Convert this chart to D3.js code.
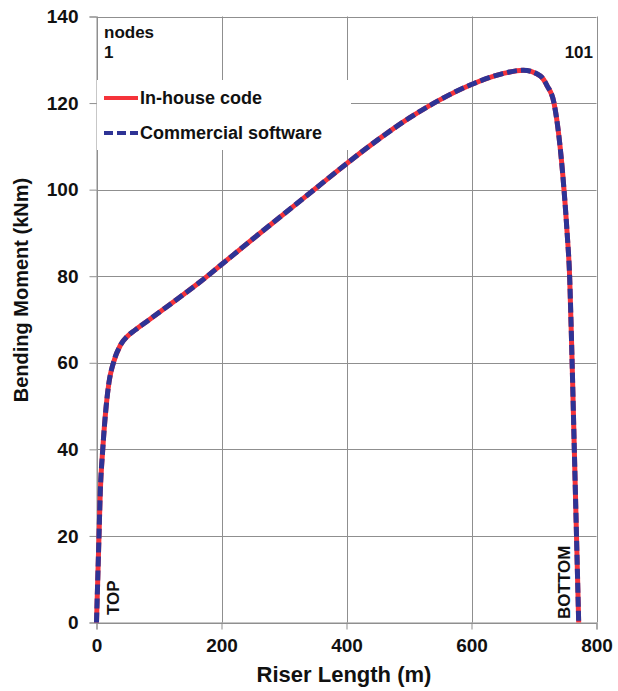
<!DOCTYPE html>
<html>
<head>
<meta charset="utf-8">
<script src="https://cdn.jsdelivr.net/npm/d3@7"></script>
<style>
  html, body { margin: 0; padding: 0; background: #fff; }
  svg { display: block; font-family: "Liberation Sans", Arial, sans-serif; }
</style>
</head>
<body>
<svg id="chart" width="618" height="691"></svg>
<script>
// Riser length along the line (m) and bending moment (kNm)
const riserLength = [0, 2, 4, 6, 10, 15.5, 20, 27, 38, 50, 62, 80, 100, 130, 166, 200, 250, 300, 350, 400,
                     450, 500, 550, 600, 650, 683, 710, 721, 732, 748, 753, 757, 761, 764.5, 768, 771.5];
const inHouseMoment = [0, 10, 20, 30, 40, 50, 55.5, 60, 64, 66.2, 67.6, 69.5, 71.6, 74.8, 78.7, 82.7, 88.6, 94.4, 100.2, 106,
                       111.5, 116.5, 120.8, 124.3, 126.8, 127.6, 126.3, 124, 120, 100, 90, 80, 60, 40, 20, 0];
const commercialMoment = [0, 10, 20, 30, 40, 50, 55.5, 60, 64, 66.2, 67.6, 69.5, 71.6, 74.8, 78.7, 82.7, 88.6, 94.4, 100.2, 106,
                          111.5, 116.5, 120.8, 124.3, 126.8, 127.6, 126.3, 124, 120, 100, 90, 80, 60, 40, 20, 0];

const xTicks = [0, 200, 400, 600, 800];
const yTicks = [0, 20, 40, 60, 80, 100, 120, 140];
const seriesNames = ["In-house code", "Commercial software"];

const RED = "#f5333a";
const BLUE = "#2e3395";
const GRID = "#8f8f8f";

const svg = d3.select("#chart");
const x = d3.scaleLinear().domain([0, 800]).range([96.5, 596.5]);
const y = d3.scaleLinear().domain([0, 140]).range([622.5, 16.5]);

// gridlines
const grid = svg.append("g").attr("stroke", GRID).attr("stroke-width", 1);
grid.selectAll("line.v").data(xTicks).join("line")
  .attr("x1", d => Math.round(x(d)) + 0.5).attr("x2", d => Math.round(x(d)) + 0.5)
  .attr("y1", y(0)).attr("y2", y(140));
grid.selectAll("line.h").data(yTicks).join("line")
  .attr("x1", x(0)).attr("x2", x(800))
  .attr("y1", d => Math.round(y(d)) + 0.5).attr("y2", d => Math.round(y(d)) + 0.5);

// axes (outside ticks only, labels bold)
const yAxis = svg.append("g").attr("transform", `translate(${x(0)},0)`)
  .call(d3.axisLeft(y).tickValues(yTicks).tickSize(7).tickPadding(11));
const xAxis = svg.append("g").attr("transform", `translate(0,${y(0)})`)
  .call(d3.axisBottom(x).tickValues(xTicks).tickSize(7).tickPadding(9));
[xAxis, yAxis].forEach(a => {
  a.select(".domain").attr("stroke", GRID);
  a.selectAll(".tick line").attr("stroke", GRID);
  a.selectAll(".tick text").attr("fill", "#111").attr("font-size", 19).attr("font-weight", "bold")
    .attr("font-family", "Liberation Sans, Arial, sans-serif");
});

// legend box hides the grid behind it
svg.append("rect").attr("x", 97).attr("y", 80).attr("width", 254).attr("height", 70).attr("fill", "#fff");

// curves: solid red under dashed blue
const line = d3.line().curve(d3.curveMonotoneX);
const inHousePts = riserLength.map((d, i) => [x(d), y(inHouseMoment[i])]);
const commercialPts = riserLength.map((d, i) => [x(d), y(commercialMoment[i])]);
svg.append("path").attr("d", line(inHousePts)).attr("fill", "none")
  .attr("stroke", RED).attr("stroke-width", 5).attr("stroke-linejoin", "round");
svg.append("path").attr("d", line(commercialPts)).attr("fill", "none")
  .attr("stroke", BLUE).attr("stroke-width", 5).attr("stroke-dasharray", "10,4");

// legend
const lg = svg.append("g");
lg.append("line").attr("x1", 104).attr("x2", 138).attr("y1", 98).attr("y2", 98)
  .attr("stroke", RED).attr("stroke-width", 4);
lg.append("line").attr("x1", 104).attr("x2", 138).attr("y1", 133).attr("y2", 133)
  .attr("stroke", BLUE).attr("stroke-width", 4).attr("stroke-dasharray", "9,4");
lg.selectAll("text").data(seriesNames).join("text")
  .attr("x", 140).attr("y", (d, i) => i === 0 ? 103.5 : 138.5)
  .attr("font-size", 18).attr("font-weight", "bold").attr("fill", "#111").text(d => d);

// node annotations
const ann = svg.append("g").attr("font-size", 17).attr("font-weight", "bold").attr("fill", "#111");
ann.append("text").attr("x", 104).attr("y", 38).text("nodes");
ann.append("text").attr("x", 104).attr("y", 58).text("1");
ann.append("text").attr("x", 593).attr("y", 58).attr("text-anchor", "end").text("101");
ann.append("text").attr("transform", `translate(${x(0) + 22},615) rotate(-90)`).text("TOP");
ann.append("text").attr("transform", `translate(${x(748) + 6},619) rotate(-90)`).text("BOTTOM");

// axis titles
svg.append("text").attr("x", 344).attr("y", 682).attr("text-anchor", "middle")
  .attr("font-size", 22).attr("font-weight", "bold").attr("fill", "#111").text("Riser Length (m)");
svg.append("text").attr("transform", "translate(28,290) rotate(-90)").attr("text-anchor", "middle")
  .attr("font-size", 20).attr("font-weight", "bold").attr("fill", "#111").text("Bending Moment (kNm)");
</script>
</body>
</html>
